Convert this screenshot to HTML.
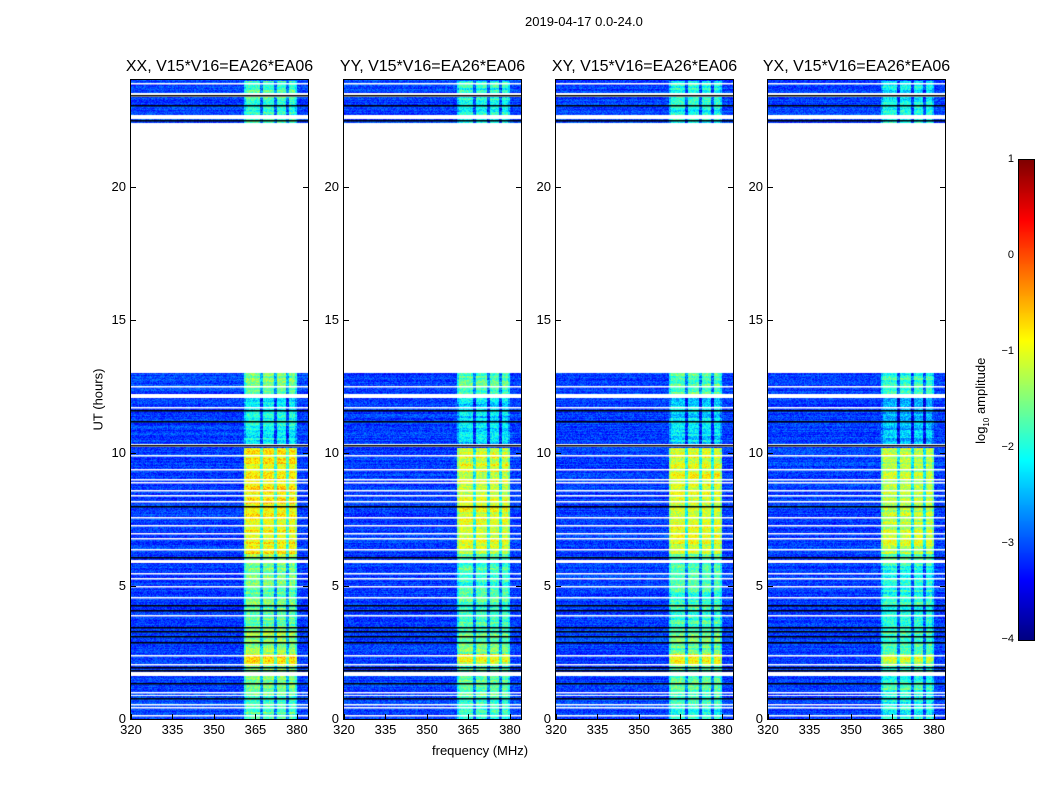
<!DOCTYPE html>
<html><head><meta charset="utf-8"><style>
body{margin:0;background:#fff;width:1050px;height:800px;position:relative;font-family:"Liberation Sans",sans-serif;overflow:hidden}
.t{position:absolute;white-space:nowrap;color:#000}
canvas{position:absolute}
.frame{position:absolute;border:1px solid #000;box-sizing:border-box}
</style></head><body>
<div class="t" style="left:525px;top:14px;font-size:13px">2019-04-17 0.0-24.0</div>
<div class="t" style="left:50px;top:392px;font-size:13px;transform:rotate(-90deg);width:96px;text-align:center">UT (hours)</div>
<div class="t" style="left:432px;top:743px;font-size:13px">frequency (MHz)</div>
<div id="root"></div>
<canvas id="cb" width="15" height="480" style="left:1019px;top:160px"></canvas>
<div class="frame" style="left:1018px;top:159px;width:17px;height:482px"></div>
<div class="t" style="left:922px;top:392px;font-size:13px;transform:rotate(-90deg);width:120px;text-align:center">log<sub style="font-size:8px">10</sub> amplitude</div>
<script>
const panels=["XX","YY","XY","YX"];
const panelLeft=[131,344,556,768];
const panelGain=[0.2,0.0,0.0,-0.15];
const xTicks=[320,335,350,365,380];
const yTicks=[0,5,10,15,20];
const cbTicks=[1,0,-1,-2,-3,-4];
const dataBlocks=[[0,0.85],[0.92,1.62],[1.75,5.85],[5.98,10.2],[10.32,12.05],[12.2,13.0],[22.4,22.55],[22.68,23.35],[23.5,24]];
const bandStart=[0,0.9,1.9,2.0,2.45,3.3,5.9,6.2,10.3,12.2,22.4];
const bandEnd=[0.9,1.9,2.0,2.45,3.3,5.9,6.2,10.2,12.2,13,24];
const bandLevel=[-1.9,-1.7,-1.9,-1.0,-1.6,-1.8,-1.7,-1.05,-2.3,-1.7,-2.0];
const whiteLines=[0.15,0.45,0.55,1.0,2.05,2.4,3.9,4.6,5.0,5.3,5.5,6.4,6.8,7.0,7.3,7.6,8.2,8.4,8.6,8.9,9.0,9.4,9.9,11.7,12.5,23.9];
const blackLines=[0.8,1.35,1.85,1.95,2.9,3.1,3.3,3.45,4.1,4.3,6.1,8.0,10.3,11.2,11.6,22.5,23.05,23.45];
const bandF0=360.5,bandF1=380,bandGaps=[367,372,376.5];
const W=177,H=639,T=80,f0=320,f1=384;
const xs=f=>(f-f0)/(f1-f0)*W, ys=h=>H-h/24*H;
function jet(v){let t=Math.max(0,Math.min(1,(v+4)/5));const c=x=>Math.round(255*Math.max(0,Math.min(1,1.5-Math.abs(x))));return [c(4*t-3),c(4*t-2),c(4*t-1)];}
function hash(a,b,c){let h=(a*374761393+b*668265263+c*2147483647)|0;h=(h^(h>>>13))*1274126177|0;return ((h^(h>>>16))>>>0)/4294967296;}
const root=document.getElementById('root');
function add(tag,name,inter,style,txt){const e=document.createElement(tag);
e.style.cssText=style;if(txt!==undefined)e.textContent=txt;root.appendChild(e);return e;}
panels.forEach((p,pi)=>{
 const L=panelLeft[pi];
 const cv=add('canvas','waterfall-'+p.toLowerCase(),'false',`left:${L}px;top:${T}px`);cv.width=W;cv.height=H;
 const ctx=cv.getContext('2d');const img=ctx.createImageData(W,H);
 const rowInData=new Array(H).fill(false);
 dataBlocks.forEach(([a,b])=>{for(let y=Math.round(ys(b));y<Math.round(ys(a));y++)if(y>=0&&y<H)rowInData[y]=true;});
 for(let y=0;y<H;y++){const hr=(H-y)/H*24;
  let bl=null;for(let i=0;i<bandStart.length;i++)if(hr>=bandStart[i]&&hr<bandEnd[i])bl=bandLevel[i];
  const rowN=hash(y,pi,7)*0.3;
  const rowB=(hash(y>>1,pi,11)-0.5)*0.5;
  for(let x=0;x<W;x++){const o=(y*W+x)*4;
   if(!rowInData[y]){img.data[o]=img.data[o+1]=img.data[o+2]=255;img.data[o+3]=255;continue;}
   const f=f0+x/W*(f1-f0);let v=-3.35+hash(x,y,pi)*0.55+rowN-0.15;
   if(bl!==null&&f>=bandF0&&f<=bandF1){let g=false;bandGaps.forEach(q=>{if(Math.abs(f-q)<0.55)g=true;});
     const edge=(f<361.5||f>379)?-0.4:0;
     v=bl+panelGain[pi]+rowB+edge+(hash(x,y,pi+9)-0.5)*0.7+(g?-1.0:0);}
   const c=jet(v);img.data[o]=c[0];img.data[o+1]=c[1];img.data[o+2]=c[2];img.data[o+3]=255;}}
 ctx.putImageData(img,0,0);
 ctx.fillStyle='#fff';whiteLines.forEach(h=>ctx.fillRect(0,Math.round(ys(h)),W,1.5));
 ctx.fillStyle='#000';blackLines.forEach(h=>ctx.fillRect(0,Math.round(ys(h)),W,1.5));
 add('div','panel-frame-'+p.toLowerCase(),'false',`left:${L-1}px;top:${T-1}px;width:${W+2}px;height:${H+2}px;position:absolute;border:1px solid #000;box-sizing:border-box`);
 add('div','panel-title-'+p.toLowerCase(),'false',`position:absolute;left:${L-30}px;top:58px;width:${W+60}px;text-align:center;font-size:16px;white-space:nowrap`,p+', V15*V16=EA26*EA06');
 xTicks.forEach(t=>{const x=L+xs(t);
  add('div','x-tick','false',`position:absolute;left:${x}px;top:${T+H-5}px;width:1px;height:5px;background:#000`);
  add('div','x-tick-label','false',`position:absolute;left:${x-20}px;top:${T+H+3}px;width:40px;text-align:center;font-size:13px`,String(t));});
 yTicks.forEach(t=>{const y=T+ys(t);
  add('div','y-tick','false',`position:absolute;left:${L}px;top:${y}px;width:5px;height:1px;background:#000`);
  add('div','y-tick-right','false',`position:absolute;left:${L+W-5}px;top:${y}px;width:5px;height:1px;background:#000`);
  add('div','y-tick-label','false',`position:absolute;left:${L-45}px;top:${y-8}px;width:40px;text-align:right;font-size:13px`,String(t));});
});
const cb=document.getElementById('cb').getContext('2d');
for(let y=0;y<480;y++){const c=jet(1-y/480*5);cb.fillStyle=`rgb(${c})`;cb.fillRect(0,y,15,1);}
cbTicks.forEach(t=>{const y=160+(1-t)/5*480;
 add('div','colorbar-tick-label','false',`position:absolute;left:990px;top:${y-7}px;width:24px;text-align:right;font-size:11px`,t<0?'\u2212'+(-t):String(t));});
</script>
</body></html>
